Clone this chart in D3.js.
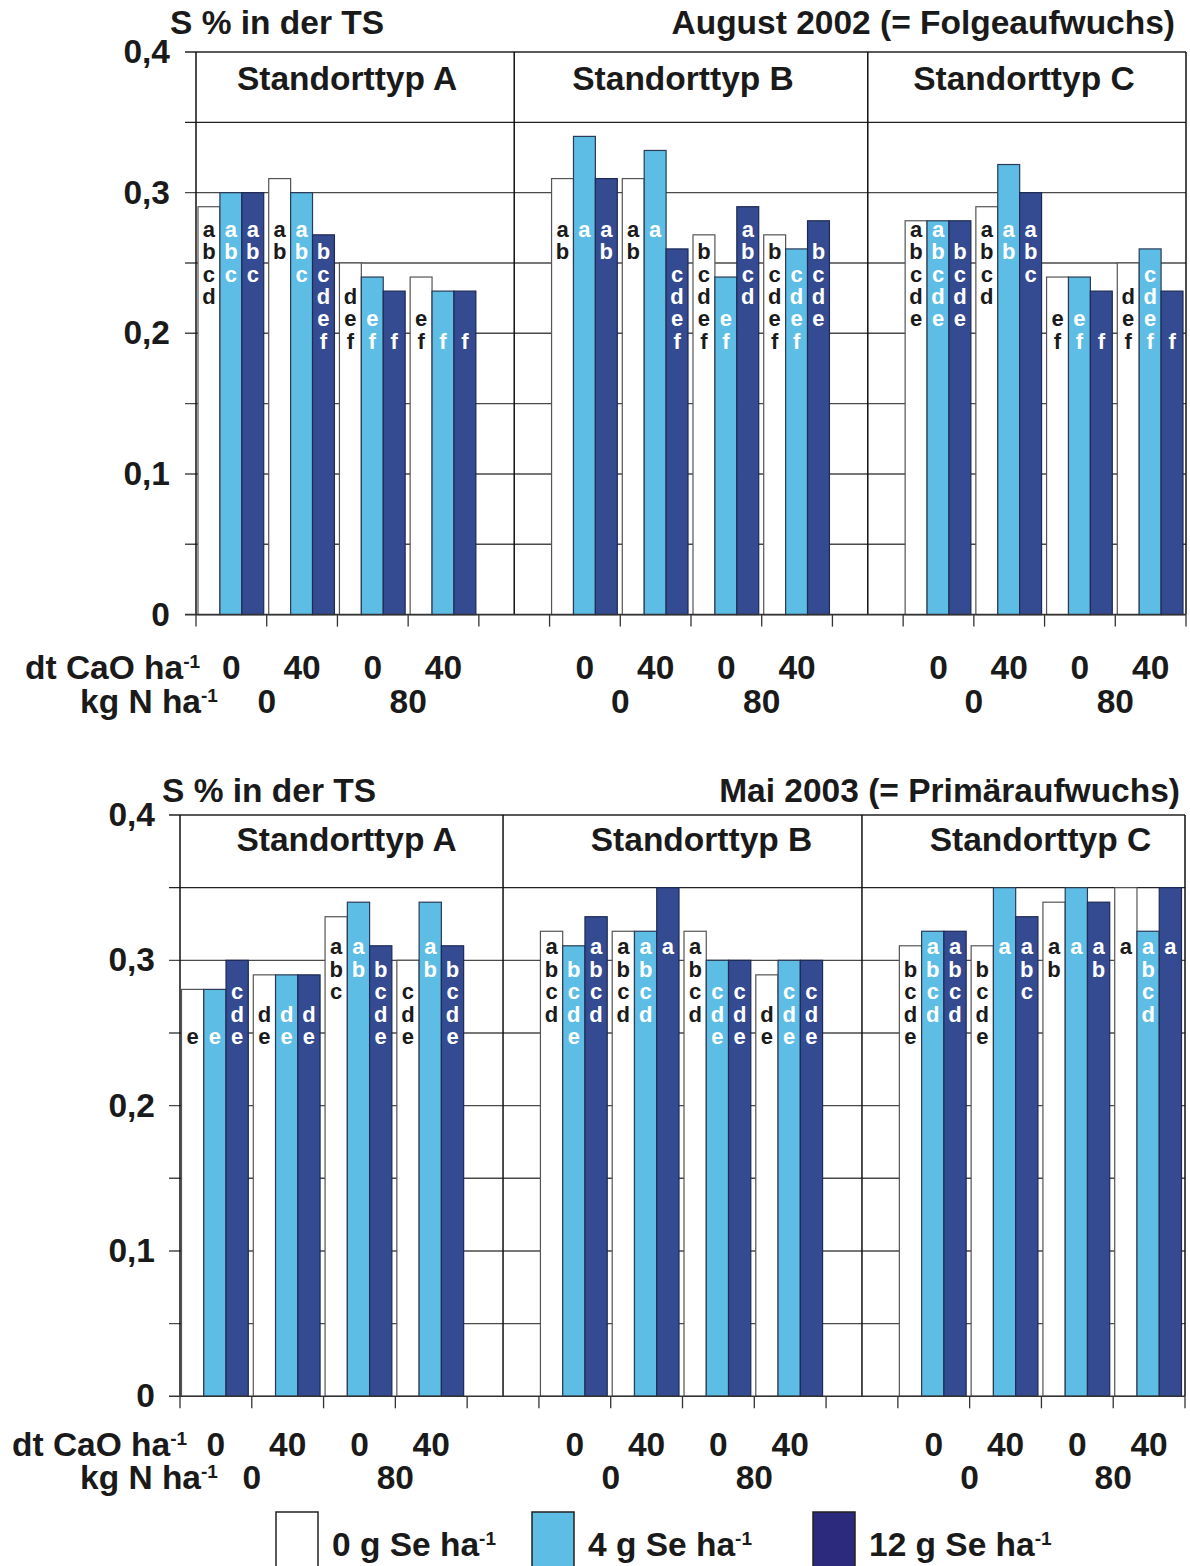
<!DOCTYPE html>
<html>
<head>
<meta charset="utf-8">
<script src="https://cdn.jsdelivr.net/npm/d3@7"></script>
<style>
  html, body { margin: 0; padding: 0; background: #fff; }
  svg text { font-family: "Liberation Sans", Arial, Helvetica, sans-serif; font-weight: bold; fill: #1a1a1a; }
</style>
</head>
<body>
<svg id="chart" width="1190" height="1566"></svg>
<script>
// ---- categories and labels ----
const sites = ["Standorttyp A", "Standorttyp B", "Standorttyp C"];
const caoLevels = ["0", "40", "0", "40"];          // dt CaO ha-1 per group
const nLevels = ["0", "80"];                        // kg N ha-1, each spans two CaO groups
const seLevels = ["0 g Se ha", "4 g Se ha", "12 g Se ha"];
const yTickValues = [0, 0.1, 0.2, 0.3, 0.4];
const yTickLabels = ["0", "0,1", "0,2", "0,3", "0,4"];

// ---- August 2002 (Folgeaufwuchs): S % in der TS, order A1..A4, B1..B4, C1..C4 ----
const aug_se0  = [0.29, 0.31, 0.25, 0.24,  0.31, 0.31, 0.27, 0.27,  0.28, 0.29, 0.24, 0.25];
const aug_se4  = [0.30, 0.30, 0.24, 0.23,  0.34, 0.33, 0.24, 0.26,  0.28, 0.32, 0.24, 0.26];
const aug_se12 = [0.30, 0.27, 0.23, 0.23,  0.31, 0.26, 0.29, 0.28,  0.28, 0.30, 0.23, 0.23];
const aug_sig0  = ["abcd", "ab", "def", "ef",   "ab", "ab", "bcdef", "bcdef",  "abcde", "abcd", "ef", "def"];
const aug_sig4  = ["abc", "abc", "ef", "f",     "a", "a", "ef", "cdef",        "abcde", "ab", "ef", "cdef"];
const aug_sig12 = ["abc", "bcdef", "f", "f",    "ab", "cdef", "abcd", "bcde",  "bcde", "abc", "f", "f"];

// ---- Mai 2003 (Primäraufwuchs) ----
const mai_se0  = [0.28, 0.29, 0.33, 0.30,  0.32, 0.32, 0.32, 0.29,  0.31, 0.31, 0.34, 0.35];
const mai_se4  = [0.28, 0.29, 0.34, 0.34,  0.31, 0.32, 0.30, 0.30,  0.32, 0.35, 0.35, 0.32];
const mai_se12 = [0.30, 0.29, 0.31, 0.31,  0.33, 0.35, 0.30, 0.30,  0.32, 0.33, 0.34, 0.35];
const mai_sig0  = ["e", "de", "abc", "cde",    "abcd", "abcd", "abcd", "de",  "bcde", "bcde", "ab", "a"];
const mai_sig4  = ["e", "de", "ab", "ab",      "bcde", "abcd", "cde", "cde",  "abcd", "a", "a", "abcd"];
const mai_sig12 = ["cde", "de", "bcde", "bcde", "abcd", "a", "cde", "cde",    "abcd", "abc", "ab", "a"];

// ---- styling ----
const barFill = ["#ffffff", "#5dbde4", "#344a91"];
const barStroke = ["#555555", "#2b3a55", "#1e2a55"];
const letterFill = ["#1a1a1a", "#ffffff", "#ffffff"];
const legendFill = ["#ffffff", "#5dbde4", "#2b2a7d"];
const FONT = "33.5px";

const svg = d3.select("#chart");

function drawChart(cfg) {
  const g = svg.append("g");
  const nSlots = 14;                      // 3 sites x 4 groups + 2 empty spacer slots
  const slot = d3.scaleBand().domain(d3.range(nSlots)).range([cfg.x0, cfg.x1]).padding(0);
  const bw = slot.bandwidth();
  const series = d3.scaleBand().domain([0, 1, 2]).range([cfg.barPadL, bw - cfg.barPadR]).padding(0);
  const y = d3.scaleLinear().domain([0, 0.4]).range([cfg.y0, cfg.yTop]);
  const slotOf = i => Math.floor(i / 4) * 5 + (i % 4);

  // horizontal grid lines every 0,05
  const grid = d3.range(1, 9).map(k => k * 0.05);
  g.append("g").selectAll("line").data(grid).join("line")
    .attr("x1", cfg.x0 - 11).attr("x2", cfg.x1)
    .attr("y1", d => y(d)).attr("y2", d => y(d))
    .attr("stroke", (d, i) => i >= 6 ? "#222" : "#4a4a4a")
    .attr("stroke-width", 1.4);

  // bars
  const rows = [];
  cfg.values.forEach((vals, s) => vals.forEach((v, i) => rows.push({ s, i, v, sig: cfg.sig[s][i] })));
  g.append("g").selectAll("rect").data(rows).join("rect")
    .attr("x", d => slot(slotOf(d.i)) + series(d.s))
    .attr("width", series.bandwidth())
    .attr("y", d => y(d.v))
    .attr("height", d => y(0) - y(d.v))
    .attr("fill", d => barFill[d.s])
    .attr("stroke", d => barStroke[d.s])
    .attr("stroke-width", 1.2);

  // significance letters, each letter on its own row
  const letters = [];
  rows.forEach(d => d.sig.split("").forEach(ch => letters.push({ ...d, ch })));
  g.append("g").selectAll("text").data(letters).join("text")
    .attr("x", d => slot(slotOf(d.i)) + series(d.s) + series.bandwidth() / 2)
    .attr("y", d => cfg.letterTop + (d.ch.charCodeAt(0) - 97) * cfg.letterStep)
    .attr("text-anchor", "middle")
    .style("font-size", "22px")
    .style("fill", d => letterFill[d.s])
    .text(d => d.ch);

  // frame: y axis, panel dividers, right border
  const dividers = [cfg.x0, slot(4) + bw / 2, slot(9) + bw / 2, cfg.x1];
  g.append("g").selectAll("line").data(dividers).join("line")
    .attr("x1", d => d).attr("x2", d => d)
    .attr("y1", cfg.yTop).attr("y2", y(0))
    .attr("stroke", "#111").attr("stroke-width", 1.5);

  // x axis with ticks at slot boundaries
  g.append("line").attr("x1", cfg.x0 - 11).attr("x2", cfg.x1)
    .attr("y1", y(0)).attr("y2", y(0)).attr("stroke", "#333").attr("stroke-width", 1.6);
  g.append("g").selectAll("line").data(d3.range(nSlots + 1)).join("line")
    .attr("x1", i => cfg.x0 + i * bw).attr("x2", i => cfg.x0 + i * bw)
    .attr("y1", y(0)).attr("y2", y(0) + 12)
    .attr("stroke", "#333").attr("stroke-width", 1.3);

  // y tick labels
  g.append("g").selectAll("text").data(yTickValues).join("text")
    .attr("x", cfg.tickRight).attr("y", d => y(d) + 11)
    .attr("text-anchor", "end").style("font-size", FONT)
    .text((d, i) => yTickLabels[i]);

  // site headers
  g.append("g").selectAll("text").data(sites).join("text")
    .attr("x", (d, i) => (dividers[i] + dividers[i + 1]) / 2 + cfg.headerDx[i])
    .attr("y", cfg.headerY)
    .attr("text-anchor", "middle").style("font-size", FONT)
    .text(d => d);

  // titles
  g.append("text").attr("x", cfg.titleLeft).attr("y", cfg.titleY)
    .style("font-size", FONT).text("S % in der TS");
  g.append("text").attr("x", cfg.titleRight).attr("y", cfg.titleY)
    .attr("text-anchor", "end").style("font-size", FONT).text(cfg.title);

  // x axis labels
  const unit = (x, yy, txt) => {
    const t = g.append("text").attr("x", x).attr("y", yy).style("font-size", FONT);
    t.append("tspan").text(txt);
    t.append("tspan").attr("dy", -11).style("font-size", "19px").text("-1");
  };
  unit(cfg.caoLabelX, cfg.row1Y, "dt CaO ha");
  unit(cfg.nLabelX, cfg.row2Y, "kg N ha");

  const caoRows = [];
  sites.forEach((s, si) => caoLevels.forEach((c, gi) => caoRows.push({ slotIdx: si * 5 + gi, c })));
  g.append("g").selectAll("text").data(caoRows).join("text")
    .attr("x", d => slot(d.slotIdx) + bw / 2).attr("y", cfg.row1Y)
    .attr("text-anchor", "middle").style("font-size", FONT)
    .text(d => d.c);

  const nRows = [];
  sites.forEach((s, si) => nLevels.forEach((n, ni) => nRows.push({ slotIdx: si * 5 + ni * 2, n })));
  g.append("g").selectAll("text").data(nRows).join("text")
    .attr("x", d => slot(d.slotIdx) + bw).attr("y", cfg.row2Y)
    .attr("text-anchor", "middle").style("font-size", FONT)
    .text(d => d.n);
}

drawChart({
  values: [aug_se0, aug_se4, aug_se12], sig: [aug_sig0, aug_sig4, aug_sig12],
  title: "August 2002 (= Folgeaufwuchs)",
  x0: 196, x1: 1186, y0: 614.6, yTop: 52, barPadL: 2, barPadR: 3,
  letterTop: 237, letterStep: 22.3,
  tickRight: 170, headerY: 90, headerDx: [-8, -8, -3],
  titleLeft: 170, titleRight: 1175, titleY: 34,
  caoLabelX: 25, nLabelX: 80, row1Y: 679, row2Y: 713
});

drawChart({
  values: [mai_se0, mai_se4, mai_se12], sig: [mai_sig0, mai_sig4, mai_sig12],
  title: "Mai 2003 (= Primäraufwuchs)",
  x0: 180, x1: 1185, y0: 1396.3, yTop: 815, barPadL: 1.5, barPadR: 3.5,
  letterTop: 954, letterStep: 22.5,
  tickRight: 155, headerY: 851, headerDx: [5, 19, 17],
  titleLeft: 162, titleRight: 1180, titleY: 802,
  caoLabelX: 12, nLabelX: 80, row1Y: 1456, row2Y: 1489
});

// legend
const legendX = [276, 532, 813];
const legend = svg.append("g").selectAll("g").data(seLevels).join("g")
  .attr("transform", (d, i) => `translate(${legendX[i]},1512)`);
legend.append("rect").attr("width", 42).attr("height", 60)
  .attr("fill", (d, i) => legendFill[i]).attr("stroke", "#222").attr("stroke-width", 1.5);
const lt = legend.append("text").attr("x", 56).attr("y", 44).style("font-size", FONT);
lt.append("tspan").text(d => d);
lt.append("tspan").attr("dy", -11).style("font-size", "19px").text("-1");
</script>
</body>
</html>
